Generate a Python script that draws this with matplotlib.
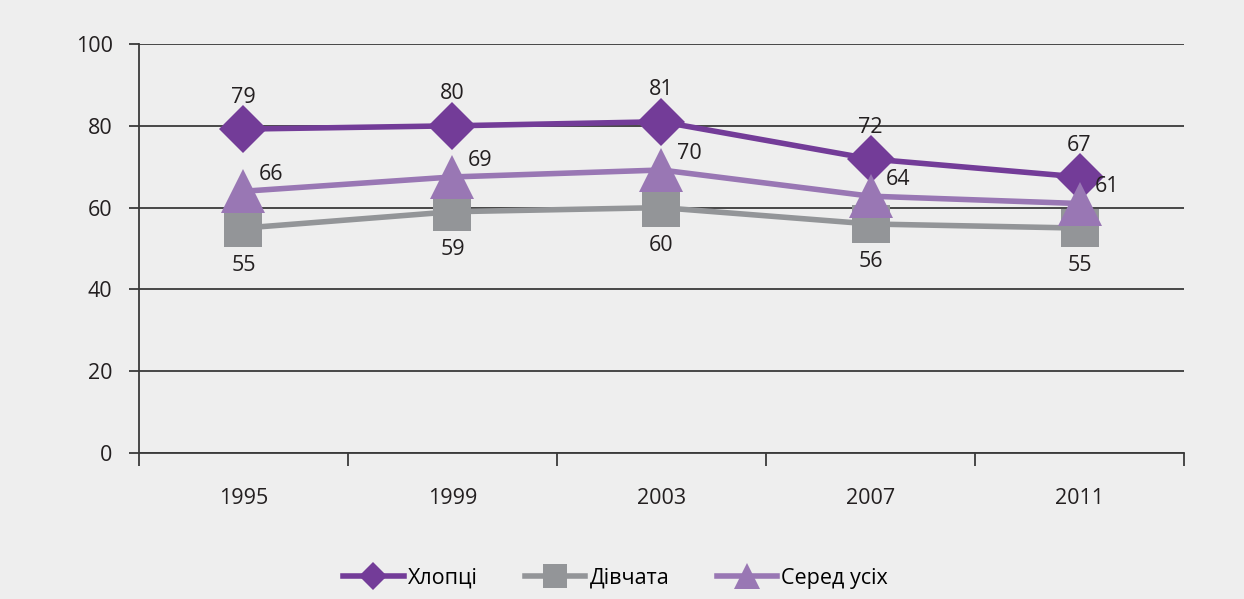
import matplotlib.pyplot as plt
import numpy as np

# --- data ---
years = ['1995', '1999', '2003', '2007', '2011']
series_names = ['Хлопці', 'Дівчата', 'Серед усіх']
boys = [79.2, 80, 81, 71.9, 67.5]
girls = [55, 59, 60, 56, 55]
total = [64, 67.5, 69.2, 62.8, 61]
boys_labels = ['79', '80', '81', '72', '67']
girls_labels = ['55', '59', '60', '56', '55']
total_labels = ['66', '69', '70', '64', '61']

plt.rcParams['font.family'] = ['Open Sans', 'DejaVu Sans']

BG = '#eeeeee'
C_BOYS = '#733c98'
C_GIRLS = '#939598'
C_TOTAL = '#9977b4'
TXT = '#231f20'
FS = 15.5

fig = plt.figure(figsize=(12.44, 5.99), dpi=100, facecolor=BG)
ax = fig.add_axes([0.1117, 0.2437, 0.8401, 0.6828], facecolor=BG)

x = np.arange(len(years))
ax.plot(x, boys, color=C_BOYS, lw=4, marker='D', ms=24, mec=C_BOYS, mew=0,
        label=series_names[0], zorder=3)
ax.plot(x, girls, color=C_GIRLS, lw=4, marker='s', ms=28, mec=C_GIRLS, mew=0,
        label=series_names[1], zorder=4)
ax.plot(x, total, color=C_TOTAL, lw=4, marker='^', ms=32, mec=C_TOTAL, mew=0,
        label=series_names[2], zorder=5)

# data labels
for i in range(len(years)):
    ax.annotate(boys_labels[i], (x[i], boys[i]), xytext=(0, 23), textcoords='offset points',
                ha='center', va='center', fontsize=FS, color=TXT)
    ax.annotate(girls_labels[i], (x[i], girls[i]), xytext=(0, -27), textcoords='offset points',
                ha='center', va='center', fontsize=FS, color=TXT)
    ax.annotate(total_labels[i], (x[i], total[i]), xytext=(11, 12), textcoords='offset points',
                ha='left', va='center', fontsize=FS, color=TXT)

ax.set_xlim(-0.5, len(years) - 0.5)
ax.set_ylim(0, 100)
ax.set_yticks([0, 20, 40, 60, 80, 100])
ax.yaxis.grid(True, color='#3a3a3a', lw=1.3)
ax.set_axisbelow(True)

ax.set_xticks(x)
ax.set_xticklabels(years, fontsize=FS, color=TXT)
ax.set_xticks(np.arange(-0.5, len(years)), minor=True)
ax.tick_params(axis='x', which='major', length=0, pad=25)
ax.tick_params(axis='x', which='minor', length=9, width=1.3, color='#3a3a3a', direction='out')
ax.tick_params(axis='y', length=7, width=1.3, color='#3a3a3a', labelsize=FS,
               labelcolor=TXT, pad=12)

for s in ['top', 'right']:
    ax.spines[s].set_visible(False)
for s in ['left', 'bottom']:
    ax.spines[s].set_color('#3a3a3a')
    ax.spines[s].set_linewidth(1.3)

leg = fig.legend(loc='center', bbox_to_anchor=(0.495, 0.035), ncol=3, frameon=False,
                 fontsize=FS, handlelength=2.8, markerscale=0.6, columnspacing=2.2,
                 handletextpad=0.2)

fig.savefig('out.png', dpi=100, facecolor=BG)
